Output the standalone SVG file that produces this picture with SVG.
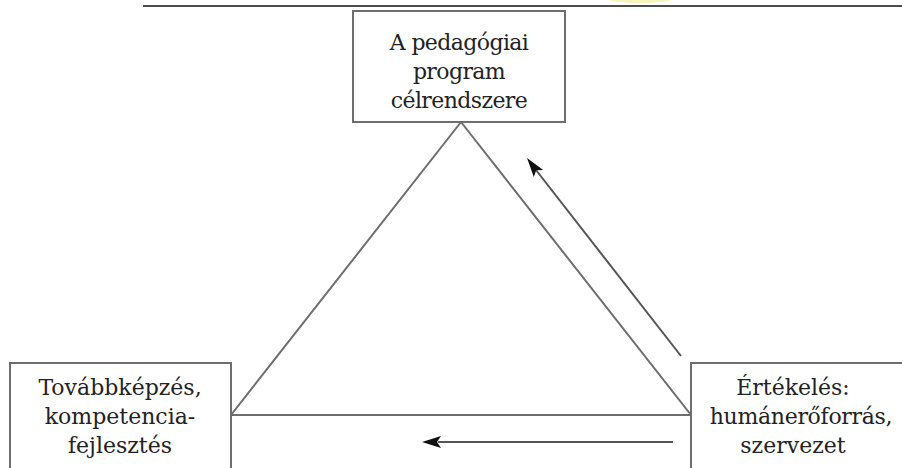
<svg xmlns="http://www.w3.org/2000/svg" width="902" height="468" viewBox="0 0 902 468">
<style>
.box{fill:#fff;stroke:#6e6e6e;stroke-width:2}
.edge{stroke:#6e6e6e;stroke-width:2;fill:none}
.arr{stroke:#555;stroke-width:2;fill:none}
.head{fill:#111}
.t{font-family:"DejaVu Serif","Liberation Serif",serif;font-size:22px;fill:#222;text-anchor:middle}
</style>
<rect width="902" height="468" fill="#fff"/>
<ellipse cx="640" cy="0" rx="30" ry="3" fill="#f3f0a0" opacity="0.7"/>
<line x1="143" y1="6" x2="902" y2="6" stroke="#111" stroke-width="1.5"/>
<g id="connectors">
<polyline class="edge" points="231,415 461,122 691,415 231,415"/>
<line class="arr" x1="681" y1="356" x2="536" y2="170"/>
<polygon class="head" points="527,158 543.2,169.9 536.2,170.3 533.8,177.0"/>
<line class="arr" x1="673" y1="442" x2="438" y2="442"/>
<polygon class="head" points="422,442 441,436 437,442 441,448"/>
</g>
<g id="n-top">
<rect class="box" x="353" y="11" width="212" height="111"/>
<text class="t" x="459" y="50" letter-spacing="-0.6">A pedagógiai</text>
<text class="t" x="459" y="79" letter-spacing="-0.6">program</text>
<text class="t" x="459" y="108" letter-spacing="-0.6">célrendszere</text>
</g>
<g id="n-left">
<rect class="box" x="10" y="363" width="221" height="110"/>
<text class="t" x="120" y="395">Továbbképzés,</text>
<text class="t" x="120" y="424">kompetencia-</text>
<text class="t" x="120" y="453">fejlesztés</text>
</g>
<g id="n-right">
<rect class="box" x="691" y="363" width="220" height="110"/>
<text class="t" x="793" y="395">Értékelés:</text>
<text class="t" x="801" y="424" letter-spacing="-0.3">humánerőforrás,</text>
<text class="t" x="793" y="453">szervezet</text>
</g>
</svg>
